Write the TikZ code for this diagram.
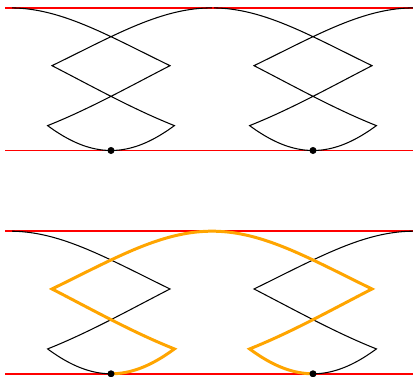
\documentclass[tikz,border=0pt]{standalone}
\usepackage{tikz}

\definecolor{kiiro}{RGB}{255,165,0}
\tikzset{
	redline/.style= {red, line width= 0.85pt},
	curve/.style= {black, line width= 0.6pt},
	highlight/.style= {kiiro, line width= 1.7pt},
}

\begin{document}
\begin{tikzpicture}[x= 0.02cm, y= -0.02cm, samples= 40,
	declare function= {cy(\q)= 79.2- 71.3*cos(\q r); tx(\q)= 102*\q+ 7.32*\q*\q*\q;}]
	\useasboundingbox (0, 0) rectangle (413, 377);

	\foreach \dy in {0, 223.3}{
	\begin{scope}[shift= {(0, \dy)}]
		\draw[redline](5, 7.9)-- (413, 7.9); %上の線
		\draw[redline](5, 150.5)-- (413, 150.5); %下の線
		\foreach \xk in {10, 212}{
			\draw[curve] plot[domain= 0.02:1.38] ({\xk+ tx(\x)}, {cy(\x)}) %上の弧(右)
				-- plot[domain= 1.38:2.28] ({\xk+ 160- 136*(\x- 1.38)}, {cy(\x)}) %下り
				-- plot[domain= 2.28:4.0032] ({\xk+ 101+ 73.58*(\x- 3.1416)}, {cy(\x)}) %下の弧
				-- plot[domain= 4.0032:4.9032] ({\xk+ 42+ 136*(4.9032- \x)}, {cy(\x)}) %上り
				-- plot[domain= 4.9032:6.2832] ({\xk+ 202+ tx(\x- 6.2832)}, {cy(\x)}); %上の弧(左)
		}
	\end{scope}
	}

	\begin{scope}[shift= {(0, 223.3)}]
		\draw[highlight] plot[domain= 3.1416:4.0032] ({111+ 73.58*(\x- 3.1416)}, {cy(\x)}) %接点から
			-- plot[domain= 4.0032:4.9032] ({52+ 136*(4.9032- \x)}, {cy(\x)})
			-- plot[domain= 4.9032:6.2832] ({212+ tx(\x- 6.2832)}, {cy(\x)})
			-- plot[domain= 0:1.38] ({212+ tx(\x)}, {cy(\x)})
			-- plot[domain= 1.38:2.28] ({372- 136*(\x- 1.38)}, {cy(\x)})
			-- plot[domain= 2.28:3.1416] ({313+ 73.58*(\x- 3.1416)}, {cy(\x)}); %次の接点まで
	\end{scope}

	\foreach \dy in {0, 223.3}{
		\fill(111, 150.5+ \dy) circle[radius= 2pt]; %接点
		\fill(313, 150.5+ \dy) circle[radius= 2pt];
	}
\end{tikzpicture}
\end{document}
